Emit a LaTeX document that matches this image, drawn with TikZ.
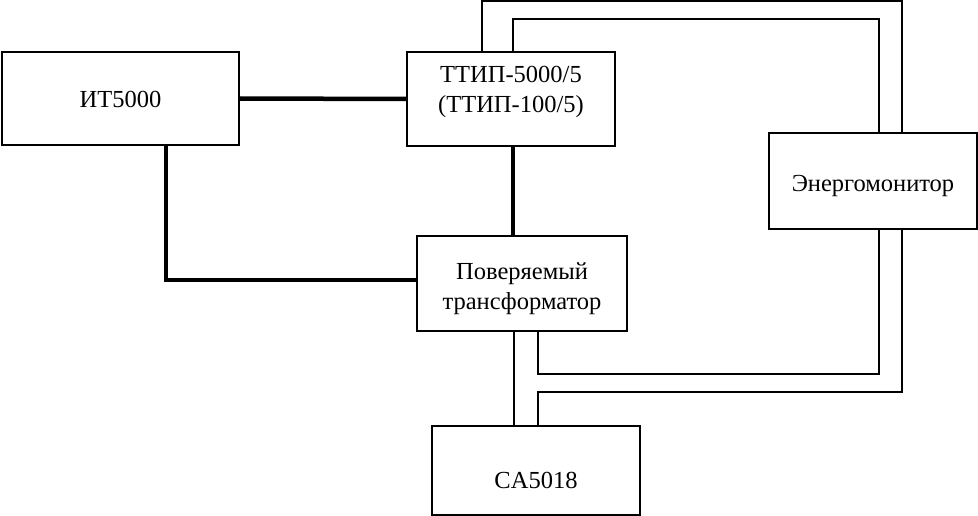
\documentclass[tikz,border=0pt]{standalone}
\usepackage{fontspec}
\setmainfont{Liberation Serif}
\newcommand{\twolines}[2]{\begin{tabular}[t]{@{}c@{}}#1\\#2\end{tabular}}
\begin{document}
\begin{tikzpicture}[x=1pt,y=-1pt,
  box/.style={draw,line width=1.6pt,rectangle,inner sep=0pt,
    font=\fontsize{24.5}{30}\selectfont},
  wire/.style={line width=1.6pt},
  heavy/.style={line width=4.5pt}]
\useasboundingbox (0,0) rectangle (978,516);
\node[box,minimum width=237pt,minimum height=93pt,text height=19pt,text depth=0pt] (it) at (120.5,98.5) {ИТ5000};
\node[box,minimum width=208pt,minimum height=94pt,text height=0pt,text depth=32pt] (ttip) at (511,99) {\twolines{ТТИП-5000/5}{(ТТИП-100/5)}};
\node[box,minimum width=210pt,minimum height=95pt,text height=0pt,text depth=9pt] (pov) at (522,283.5) {\twolines{Поверяемый}{трансформатор}};
\node[box,minimum width=208pt,minimum height=96pt,text height=22pt,text depth=0pt] (em) at (873,181) {Энергомонитор};
\node[box,minimum width=208pt,minimum height=89pt,text height=35pt,text depth=0pt] (ca) at (536,470.5) {CA5018};
% heavy connections
\draw[heavy] (it.east) -- (ttip.west);
\draw[heavy] ([xshift=45.5pt]it.south) |- ([yshift=3.5pt]pov.west);
\draw[heavy] ([xshift=2pt]ttip.south) -- ([xshift=2pt]ttip.south |- pov.north);
% thin connections
\draw[wire] ([xshift=-8pt]pov.south) -- ([xshift=-8pt]pov.south |- ca.north);
\draw[wire] ([xshift=-29pt]ttip.north) |- ([xshift=29pt,yshift=131pt]em.north) -- ([xshift=29pt]em.north);
\draw[wire] ([xshift=2pt]ttip.north) |- ([xshift=6pt,yshift=113pt]em.north) -- ([xshift=6pt]em.north);
\draw[wire] ([xshift=6pt]em.south) |- ([xshift=16pt,yshift=-42pt]pov.south) -- ([xshift=16pt]pov.south);
\draw[wire] ([xshift=29pt]em.south) |- ([xshift=2pt,yshift=33pt]ca.north) -- ([xshift=2pt]ca.north);
\end{tikzpicture}
\end{document}
